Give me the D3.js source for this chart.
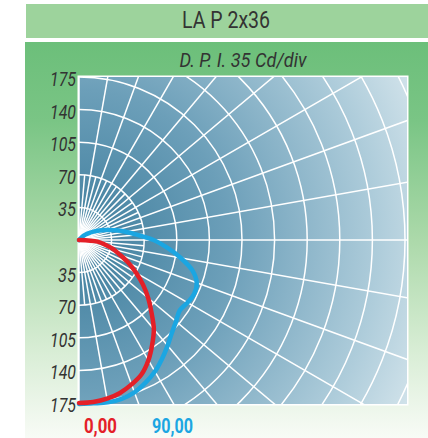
<!DOCTYPE html>
<html>
<head>
<meta charset="utf-8">
<script src="https://cdn.jsdelivr.net/npm/d3@7"></script>
<style>
  body { margin: 0; background: #fff; }
  svg { display: block; }
  text { font-family: "Roboto", "Liberation Sans", sans-serif; fill: #333; }
</style>
</head>
<body>
<svg id="chart"></svg>
<script>
const title = 'LA P 2x36';
const subtitle = 'D. P. I. 35 Cd/div';

// intensity ticks (cd), drawn above and below the centre
const tickValues = [35, 70, 105, 140, 175];

// plane C0 (0,00): angle from nadir (deg) -> cd
const redAngles = [0, 5, 10, 15, 20, 25, 30, 35, 40, 45, 50, 55, 60, 65, 70, 75, 80, 85, 90];
const redValues = [175, 174.5, 173, 170, 165, 159, 149, 137, 125, 110, 97, 84, 71, 59, 47, 38, 28, 20, 0];

// plane C90 (90,00)
const blueAngles = [0, 5, 10, 15, 20, 25, 30, 35, 40, 45, 50, 55, 60, 65, 70, 75, 80, 85, 90, 95, 100, 105, 110, 115, 120, 125, 130, 135, 140];
const blueValues = [176, 176, 177, 176.5, 174, 169, 163, 155.5, 148, 141, 136, 132, 134.5, 136.5, 134.5, 126, 111, 95, 80, 63, 51, 40, 31, 24, 18, 13, 9, 5, 0];

const legend = [
  { label: '0,00', color: '#e42028' },
  { label: '90,00', color: '#1ba6e2' }
];

const W = 428, H = 438;
const plot = { x: 79, y: 77, w: 328, h: 327 };
const cx = 79, cy = 240;

const svg = d3.select('#chart').attr('width', W).attr('height', H);
const defs = svg.append('defs');

// panel gradient
const pg = defs.append('linearGradient').attr('id', 'panelGrad')
  .attr('x1', 0).attr('y1', 0).attr('x2', 0).attr('y2', 1);
[[0, '#6cbf7a'], [0.2, '#7ac585'], [0.5, '#acd9aa'], [0.78, '#d8edd5'], [1, '#f8fbf6']]
  .forEach(([o, c]) => pg.append('stop').attr('offset', o).attr('stop-color', c));

// plot background
const bg = defs.append('radialGradient').attr('id', 'plotGrad')
  .attr('gradientUnits', 'userSpaceOnUse')
  .attr('cx', cx).attr('cy', cy).attr('r', 430);
[[0, '#3f7e9d'], [0.35, '#6c9fb9'], [0.7, '#afcddb'], [1, '#f0f6f8']]
  .forEach(([o, c]) => bg.append('stop').attr('offset', o).attr('stop-color', c));

defs.append('clipPath').attr('id', 'plotClip')
  .append('rect').attr('x', plot.x).attr('y', plot.y).attr('width', plot.w).attr('height', plot.h);

// header bands
svg.append('rect').attr('x', 26).attr('y', 4).attr('width', W - 26).attr('height', 34).attr('fill', '#9dd39c');
svg.append('rect').attr('x', 25).attr('y', 42).attr('width', W - 25).attr('height', H - 42).attr('fill', 'url(#panelGrad)');

svg.append('text').attr('x', 226).attr('y', 28).attr('text-anchor', 'middle')
  .attr('font-size', 23).attr('textLength', 88).attr('lengthAdjust', 'spacingAndGlyphs').text(title);
svg.append('text').attr('x', 243).attr('y', 67).attr('text-anchor', 'middle')
  .attr('font-size', 20).attr('font-style', 'italic')
  .attr('textLength', 127).attr('lengthAdjust', 'spacingAndGlyphs').text(subtitle);

// plot area
svg.append('rect').attr('x', plot.x - 1.5).attr('y', plot.y - 1.5)
  .attr('width', plot.w + 3).attr('height', plot.h + 3).attr('fill', '#fff');
svg.append('rect').attr('x', plot.x).attr('y', plot.y)
  .attr('width', plot.w).attr('height', plot.h).attr('fill', 'url(#plotGrad)');

const r = d3.scaleLinear().domain([0, 175]).range([0, 163]);

const grid = svg.append('g').attr('clip-path', 'url(#plotClip)')
  .append('g').attr('transform', `translate(${cx},${cy})`)
  .attr('stroke', '#fff').attr('fill', 'none').attr('stroke-width', 1.5);

grid.selectAll('circle').data(d3.range(35, 420, 35)).join('circle').attr('r', d => r(d));

const rad = a => (180 - a) * Math.PI / 180;
const spokes = d3.range(0, 181, 5).map(a => ({ a, len: a % 10 === 0 ? 420 : 70 }));
grid.selectAll('line').data(spokes).join('line')
  .attr('x1', 0).attr('y1', 0)
  .attr('x2', d => r(d.len) * Math.sin(rad(d.a)))
  .attr('y2', d => -r(d.len) * Math.cos(rad(d.a)));

// axis labels
const labels = svg.append('g').attr('font-size', 20).attr('font-style', 'italic').attr('text-anchor', 'end');
tickValues.forEach(v => {
  const tl = String(v).length === 3 ? 26 : 18;
  labels.append('text').attr('x', 76).attr('y', cy - r(v) + 9)
    .attr('textLength', tl).attr('lengthAdjust', 'spacingAndGlyphs').text(v);
  labels.append('text').attr('x', 76).attr('y', cy + r(v) + 9)
    .attr('textLength', tl).attr('lengthAdjust', 'spacingAndGlyphs').text(v);
});

// curves
const line = d3.lineRadial().curve(d3.curveCatmullRom)
  .angle(d => rad(d[0])).radius(d => r(d[1]));

const curves = svg.append('g').attr('transform', `translate(${cx},${cy})`)
  .attr('fill', 'none').attr('stroke-width', 4.5).attr('stroke-linecap', 'round');

curves.append('path').attr('stroke', legend[1].color)
  .attr('d', line(blueAngles.map((a, i) => [a, blueValues[i]])));
curves.append('path').attr('stroke', legend[0].color)
  .attr('d', line(redAngles.map((a, i) => [a, redValues[i]])));

// legend
const lg = svg.append('g').attr('font-size', 20).attr('font-weight', 'bold');
lg.append('text').attr('x', 84).attr('y', 433)
  .attr('textLength', 33).attr('lengthAdjust', 'spacingAndGlyphs')
  .style('fill', legend[0].color).text(legend[0].label);
lg.append('text').attr('x', 152).attr('y', 433)
  .attr('textLength', 41).attr('lengthAdjust', 'spacingAndGlyphs')
  .style('fill', legend[1].color).text(legend[1].label);
</script>
</body>
</html>
